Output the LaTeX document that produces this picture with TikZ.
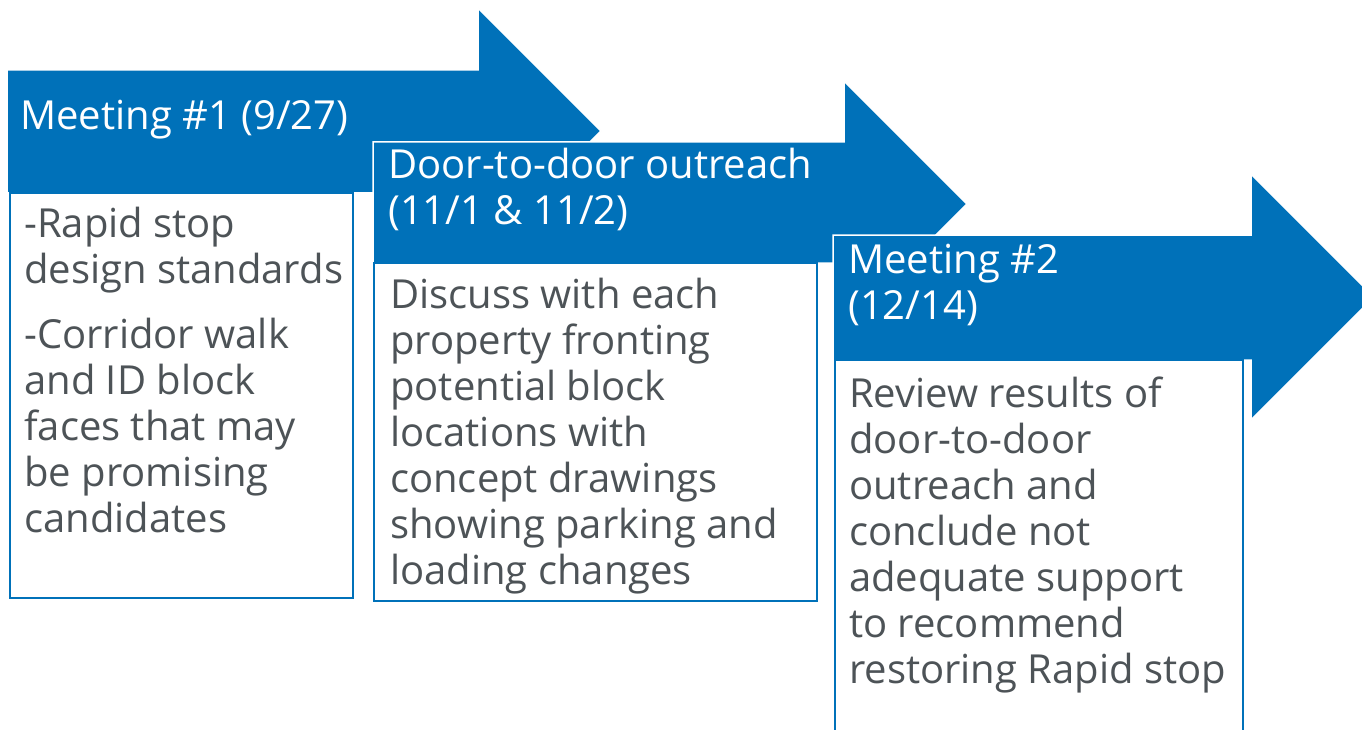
\documentclass[tikz,border=0pt]{standalone}
\usepackage{fontspec}
\setmainfont{Open Sans}
\definecolor{stepblue}{RGB}{0,113,185}
\definecolor{stepgray}{RGB}{77,83,87}
\begin{document}
\begin{tikzpicture}[x=1pt,y=-1pt,
        headtext/.style={anchor=base west,align=left,inner sep=0pt,text=white,font=\fontsize{40}{46}\selectfont},
        bodytext/.style={anchor=base west,align=left,inner sep=0pt,text=stepgray,font=\fontsize{40}{46}\selectfont},
        stepbox/.style={draw=stepblue,fill=white,line width=2.5pt},
        steparrow/.style={fill=stepblue,draw=white,line width=1.5pt}]
    \useasboundingbox (0,0) rectangle (1362,730);
    \clip (0,0) rectangle (1362,730);
    % text nodes are placed at the baseline of their last line
    \filldraw[steparrow] (7,70) -- (478,70) -- (478,8) -- (601,131) -- (478,254) -- (478,193) -- (7,193) -- cycle;
    \node[headtext] (meet1) at (20,130) {Meeting \#1 (9/27)};
    \filldraw[stepbox] (10,193) rectangle (353,598);
    \node[bodytext] (meet1text) at (24,532) {-Rapid stop\\design standards\\[19pt]-Corridor walk\\and ID block\\faces that may\\be promising\\candidates};
    \filldraw[steparrow] (373,142) -- (844,142) -- (844,81) -- (967,204) -- (844,327) -- (844,263) -- (373,263) -- cycle;
    \node[headtext] (door) at (388,224) {Door-to-door outreach\\(11/1 \& 11/2)};
    \filldraw[stepbox] (374,263) rectangle (817,601);
    \node[bodytext] (doortext) at (390,584) {Discuss with each\\property fronting\\potential block\\locations with\\concept drawings\\showing parking and\\loading changes};
    \filldraw[steparrow] (833,235) -- (1251,235) -- (1251,174) -- (1374,297) -- (1251,420) -- (1251,360) -- (833,360) -- cycle;
    \node[headtext] (meet2) at (848,319) {Meeting \#2\\(12/14)};
    \filldraw[stepbox] (835,360) rectangle (1243,745);
    \node[bodytext] (meet2text) at (849,683) {Review results of\\door-to-door\\outreach and\\conclude not\\adequate support\\to recommend\\restoring Rapid stop};
\end{tikzpicture}
\end{document}
